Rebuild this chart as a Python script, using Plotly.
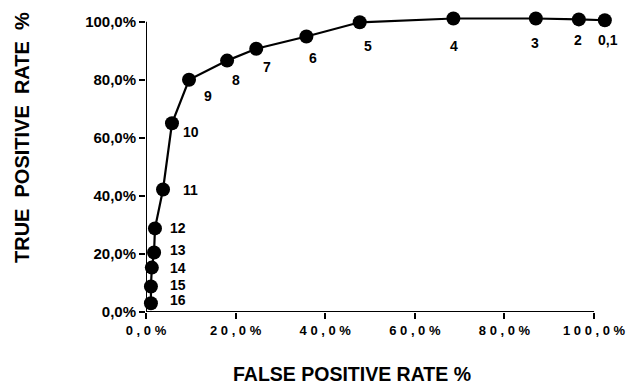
import plotly.graph_objects as go

# ROC points (threshold labels, false positive rate %, true positive rate %)
labels = ["16", "15", "14", "13", "12", "11", "10", "9", "8", "7", "6", "5", "4", "3", "2", "0,1"]
fpr = [1.1, 1.1, 1.3, 1.8, 2.0, 3.8, 5.8, 9.6, 18.1, 24.6, 35.8, 47.7, 68.6, 87.0, 96.6, 102.4]
tpr = [3.0, 8.8, 15.3, 20.5, 28.8, 42.2, 65.0, 80.0, 86.6, 90.7, 94.9, 99.8, 101.1, 101.1, 100.8, 100.5]

x_ticks = [0, 20, 40, 60, 80, 100]
x_ticktext = ["0,0%", "20,0%", "40,0%", "60,0%", "80,0%", "100,0%"]
y_ticks = [0, 20, 40, 60, 80, 100]
y_ticktext = ["0,0%", "20,0%", "40,0%", "60,0%", "80,0%", "100,0%"]

# label pixel offsets (dx right, dy down) - styling only
label_offsets = [(27, -3), (27, -1), (26, 0), (24, -2), (23, 0), (27, 0), (19, 9), (19, 16),
                 (9, 19), (11, 18), (7, 21), (8, 24), (1, 27), (-1, 24), (-1, 21), (3, 20)]

FONT = "Arial, Liberation Sans, sans-serif"


def spaced(s):
    return " ".join(list(s))


fig = go.Figure()
fig.add_trace(go.Scatter(
    x=fpr, y=tpr, mode="lines+markers",
    line=dict(color="black", width=2.2),
    marker=dict(color="black", size=14),
    cliponaxis=False, showlegend=False, hoverinfo="skip",
))

for lab, xv, yv, (dx, dy) in zip(labels, fpr, tpr, label_offsets):
    fig.add_annotation(x=xv, y=yv, text="<b>%s</b>" % lab, showarrow=False,
                       xshift=dx, yshift=-dy, xanchor="center", yanchor="middle",
                       font=dict(family=FONT, size=14, color="black"))

# axis lines (end at 100%)
fig.add_shape(type="line", xref="x", yref="y", x0=0, x1=100, y0=0, y1=0,
              line=dict(color="black", width=2))
fig.add_shape(type="line", xref="x", yref="y", x0=0, x1=0, y0=0, y1=100,
              line=dict(color="black", width=2))

# axis titles
fig.add_annotation(xref="paper", yref="paper", x=0.442, y=-0.207,
                   text="<b>FALSE POSITIVE RATE %</b>", showarrow=False,
                   xanchor="center", yanchor="middle",
                   font=dict(family=FONT, size=19.5, color="black"))
fig.add_annotation(xref="paper", yref="paper", x=-0.266, y=0.582,
                   text="<b>TRUE  POSITIVE  RATE  %</b>", showarrow=False, textangle=-90,
                   xanchor="center", yanchor="middle",
                   font=dict(family=FONT, size=20, color="black"))

fig.update_xaxes(range=[0, 104], showline=False, showgrid=False, zeroline=False,
                 tickmode="array", tickvals=x_ticks, ticktext=[spaced(t) for t in x_ticktext],
                 ticks="outside", ticklen=6, tickwidth=2, tickcolor="black",
                 tickfont=dict(family=FONT, size=13, color="black", weight="bold"))
fig.update_yaxes(range=[0, 103], showline=False, showgrid=False, zeroline=False,
                 tickmode="array", tickvals=y_ticks, ticktext=y_ticktext,
                 ticks="outside", ticklen=6, tickwidth=2, tickcolor="black",
                 tickfont=dict(family=FONT, size=15, color="black", weight="bold"))

fig.update_layout(
    width=635, height=387,
    margin=dict(l=138, r=31, t=5, b=83),
    plot_bgcolor="white", paper_bgcolor="white",
)

fig.write_html("out.html")
